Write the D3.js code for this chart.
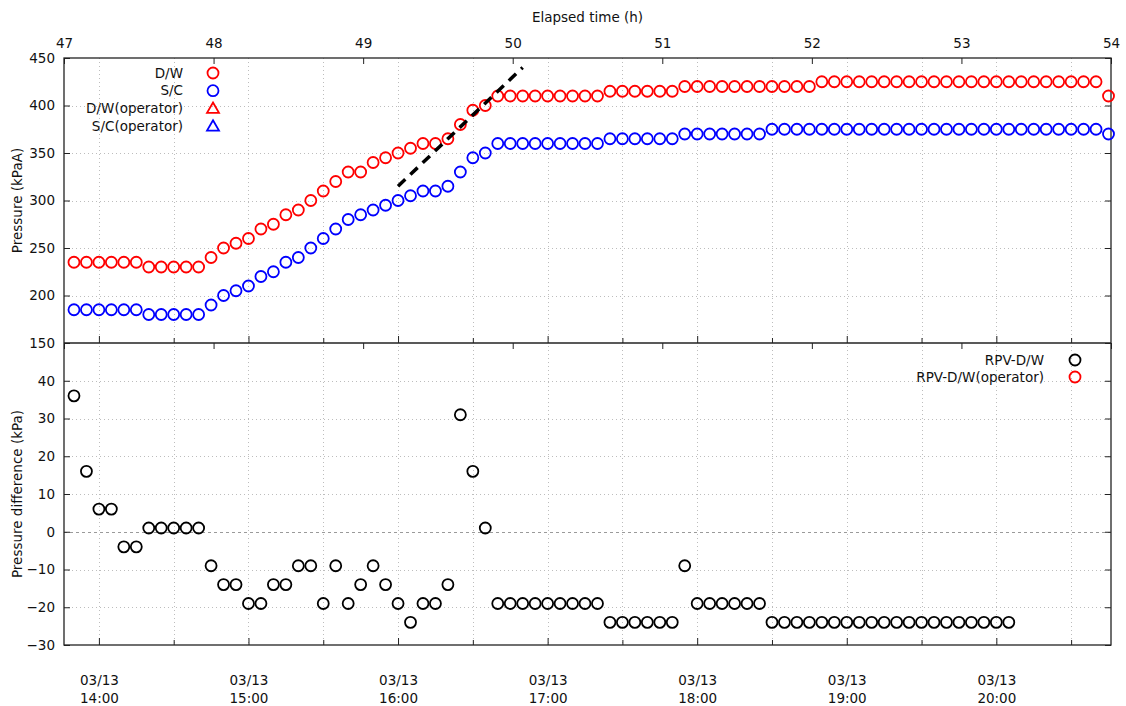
<!DOCTYPE html>
<html><head><meta charset="utf-8">
<script src="https://cdn.jsdelivr.net/npm/d3@7"></script>
<style>
body{margin:0;background:#fff}
svg{display:block}
text{font-family:"DejaVu Sans",sans-serif;font-size:13.5px;fill:#111}
</style>
</head><body>
<svg id="chart" width="1126" height="706"></svg>
<script>
// ---------- data ----------
const dateStr = "2011-03-13";
const originStr = "2011-03-11 14:46"; // elapsed time origin
const times = [
 "13:50","13:55",
 "14:00","14:05","14:10","14:15","14:20","14:25","14:30","14:35","14:40","14:45","14:50","14:55",
 "15:00","15:05","15:10","15:15","15:20","15:25","15:30","15:35","15:40","15:45","15:50","15:55",
 "16:00","16:05","16:10","16:15","16:20","16:25","16:30","16:35","16:40","16:45","16:50","16:55",
 "17:00","17:05","17:10","17:15","17:20","17:25","17:30","17:35","17:40","17:45","17:50","17:55",
 "18:00","18:05","18:10","18:15","18:20","18:25","18:30","18:35","18:40","18:45","18:50","18:55",
 "19:00","19:05","19:10","19:15","19:20","19:25","19:30","19:35","19:40","19:45","19:50","19:55",
 "20:00","20:05","20:10","20:15","20:20","20:25","20:30","20:35","20:40","20:45"
];
const dwValues = [
 235,235,235,235,235,235, 230,230,230,230,230,
 240,250,255,260,270,275,285,290,
 300,310,320,330,330,340,345,350,355,360,360,365,380,395,400,
 410,410,410,410,410,410,410,410,410,
 415,415,415,415,415,415,
 420,420,420,420,420,420,420,420,420,420,420,
 425,425,425,425,425,425,425,425,425,425,425,425,425,425,425,425,425,425,425,425,425,425,425,
 410
];
const scValues = [
 185,185,185,185,185,185, 180,180,180,180,180,
 190,200,205,210,220,225,235,240,
 250,260,270,280,285,290,295,300,305,310,310,315,330,345,350,
 360,360,360,360,360,360,360,360,360,
 365,365,365,365,365,365,
 370,370,370,370,370,370,370,
 375,375,375,375,375,375,375,375,375,375,375,375,375,375,375,375,375,375,375,375,375,375,375,375,375,375,375,
 370
];
const dwOperator = [];
const scOperator = [];
const rpvDwValues = [
 36,16,6,6,-4,-4, 1,1,1,1,1,
 -9,-14,-14,-19,-19,-14,-14,-9,
 -9,-19,-9,-19,-14,-9,-14,-19,-24,-19,-19,-14,31,16,1,
 -19,-19,-19,-19,-19,-19,-19,-19,-19,
 -24,-24,-24,-24,-24,-24,
 -9,
 -19,-19,-19,-19,-19,-19,
 -24,-24,-24,-24,-24,-24,-24,-24,-24,-24,-24,-24,-24,-24,-24,-24,-24,-24,-24,-24
];
const rpvDwOperator = [];
const trendTimes = ["16:00","16:50"];
const trendValues = [315,440];
const elapsedTicks = [47,48,49,50,51,52,53,54];
const pressureTicks = [150,200,250,300,350,400,450];
const diffTicks = [-30,-20,-10,0,10,20,30,40];
const topLegend = ["D/W","S/C","D/W(operator)","S/C(operator)"];
const botLegend = ["RPV-D/W","RPV-D/W(operator)"];

// ---------- layout ----------
const L = 64, R = 1111, TOP = 58, MID = 343, BOT = 645;
const svg = d3.select("#chart");
const parse = d3.timeParse("%Y-%m-%d %H:%M");
const t0 = parse(originStr);
const toDate = s => parse(dateStr + " " + s);
const HOUR = 3600e3;

const xE = d3.scaleLinear().domain([47, 54]).range([L, R]);
const xT = d3.scaleTime().domain([new Date(+t0 + 47*HOUR), new Date(+t0 + 54*HOUR)]).range([L, R]);
const yTop = d3.scaleLinear().domain([150, 450]).range([MID, TOP]);
const yBot = d3.scaleLinear().domain([-30, 50]).range([BOT, MID]);

const hourTicks = xT.ticks(d3.timeHour.every(1));
const halfTicks = xT.ticks(d3.timeMinute.every(30));
const minorTicks = halfTicks.filter(d => d.getMinutes() === 30);

// ---------- grid ----------
const grid = svg.append("g").attr("stroke", "#bdbdbd").attr("stroke-width", 1).attr("stroke-dasharray", "1,3").attr("fill", "none");
grid.selectAll("line.v").data(halfTicks).join("line")
  .attr("x1", d => Math.round(xT(d)) + 0.5).attr("x2", d => Math.round(xT(d)) + 0.5)
  .attr("y1", TOP).attr("y2", BOT);
grid.selectAll("line.ht").data(pressureTicks.filter(v => v > 150 && v < 450)).join("line")
  .attr("x1", L).attr("x2", R)
  .attr("y1", d => Math.round(yTop(d)) + 0.5).attr("y2", d => Math.round(yTop(d)) + 0.5);
svg.append("g").attr("stroke", "#bdbdbd").attr("stroke-dasharray", "1,3")
  .selectAll("line").data(diffTicks.filter(v => v > -30 && v !== 0)).join("line")
  .attr("x1", L).attr("x2", R)
  .attr("y1", d => Math.round(yBot(d)) + 0.5).attr("y2", d => Math.round(yBot(d)) + 0.5);
svg.append("line").attr("x1", L).attr("x2", R)
  .attr("y1", Math.round(yBot(0)) + 0.5).attr("y2", Math.round(yBot(0)) + 0.5)
  .attr("stroke", "#9a9a9a").attr("stroke-dasharray", "3,3");

// ---------- axes ----------
function clean(g){ g.select(".domain").remove(); g.attr("font-size", null).attr("font-family", null); g.selectAll("line").attr("stroke", "#222"); }

// top elapsed axis
svg.append("g").attr("transform", `translate(0,${TOP})`)
  .call(d3.axisTop(xE).tickValues(elapsedTicks).tickSize(-6).tickPadding(10).tickFormat(d3.format("d")))
  .call(clean);
svg.append("text").attr("x", (L + R)/2).attr("y", 22).attr("text-anchor", "middle").text("Elapsed time (h)");

// middle: time ticks up (top panel), elapsed ticks down (bottom panel)
svg.append("g").attr("transform", `translate(0,${MID})`)
  .call(d3.axisBottom(xT).tickValues(hourTicks).tickSize(-7).tickFormat(""))
  .call(clean);
svg.append("g").attr("transform", `translate(0,${MID})`)
  .call(d3.axisBottom(xT).tickValues(minorTicks).tickSize(-5).tickFormat(""))
  .call(clean);
svg.append("g").attr("transform", `translate(0,${MID})`)
  .call(d3.axisTop(xE).tickValues(elapsedTicks).tickSize(-6).tickFormat(""))
  .call(clean);

// bottom time axis
const axB = svg.append("g").attr("transform", `translate(0,${BOT})`)
  .call(d3.axisBottom(xT).tickValues(hourTicks).tickSize(-7).tickFormat(""))
  .call(clean);
axB.selectAll(".tick text").each(function(d){
  const t = d3.select(this).text(null).attr("y", null).attr("dy", null);
  t.append("tspan").attr("x", 0).attr("y", 40).text(d3.timeFormat("%m/%d")(d));
  t.append("tspan").attr("x", 0).attr("y", 58).text(d3.timeFormat("%H:%M")(d));
});
svg.append("g").attr("transform", `translate(0,${BOT})`)
  .call(d3.axisBottom(xT).tickValues(minorTicks).tickSize(-5).tickFormat(""))
  .call(clean);

// y axes
svg.append("g").attr("transform", `translate(${L},0)`)
  .call(d3.axisLeft(yTop).tickValues(pressureTicks).tickSize(-6).tickPadding(9))
  .call(clean);
svg.append("g").attr("transform", `translate(${R},0)`)
  .call(d3.axisRight(yTop).tickValues(pressureTicks).tickSize(-6).tickFormat(""))
  .call(clean);
svg.append("g").attr("transform", `translate(${L},0)`)
  .call(d3.axisLeft(yBot).tickValues(diffTicks).tickSize(-6).tickPadding(9))
  .call(clean);
svg.append("g").attr("transform", `translate(${R},0)`)
  .call(d3.axisRight(yBot).tickValues(diffTicks).tickSize(-6).tickFormat(""))
  .call(clean);

svg.append("text").attr("transform", `translate(17,${(TOP+MID)/2}) rotate(-90)`)
  .attr("text-anchor", "middle").attr("dy", "0.35em").text("Pressure (kPaA)");
svg.append("text").attr("transform", `translate(17,${(MID+BOT)/2}) rotate(-90)`)
  .attr("text-anchor", "middle").attr("dy", "0.35em").text("Pressure difference (kPa)");

// frames
svg.append("rect").attr("x", L).attr("y", TOP).attr("width", R - L).attr("height", BOT - TOP)
  .attr("fill", "none").attr("stroke", "#222").attr("stroke-width", 1.3);
svg.append("line").attr("x1", L).attr("x2", R).attr("y1", MID).attr("y2", MID)
  .attr("stroke", "#222").attr("stroke-width", 1.3);

// ---------- marks ----------
const RAD = 5.5, SW = 1.8;
function circles(vals, tArr, y, color){
  svg.append("g").selectAll("circle").data(vals).join("circle")
    .attr("cx", (d, i) => xT(toDate(tArr[i]))).attr("cy", d => y(d)).attr("r", RAD)
    .attr("fill", "none").attr("stroke", color).attr("stroke-width", SW);
}
circles(dwValues, times, yTop, "#ff0000");
circles(scValues, times, yTop, "#0000ff");
circles(rpvDwValues, times, yBot, "#000000");

// trend line
svg.append("path")
  .datum(trendTimes.map((t, i) => [xT(toDate(t)), yTop(trendValues[i])]))
  .attr("d", d3.line())
  .attr("stroke", "#000").attr("stroke-width", 3.5).attr("stroke-dasharray", "10,7").attr("fill", "none");

// ---------- legends ----------
const topColors = ["#ff0000","#0000ff","#ff0000","#0000ff"];
const topShapes = ["circle","circle","triangle","triangle"];
topLegend.forEach((name, i) => {
  const y = 73 + i*17.7;
  svg.append("text").attr("x", 183).attr("y", y).attr("dy", "0.35em").attr("text-anchor", "end").text(name);
  if (topShapes[i] === "circle")
    svg.append("circle").attr("cx", 213).attr("cy", y).attr("r", RAD).attr("fill", "none").attr("stroke", topColors[i]).attr("stroke-width", SW);
  else
    svg.append("path").attr("d", d3.symbol(d3.symbolTriangle, 62)()).attr("transform", `translate(213,${y+1})`)
      .attr("fill", "none").attr("stroke", topColors[i]).attr("stroke-width", SW);
});
const botColors = ["#000000","#ff0000"];
botLegend.forEach((name, i) => {
  const y = 360 + i*17;
  svg.append("text").attr("x", 1044).attr("y", y).attr("dy", "0.35em").attr("text-anchor", "end").text(name);
  svg.append("circle").attr("cx", 1075).attr("cy", y).attr("r", RAD).attr("fill", "none").attr("stroke", botColors[i]).attr("stroke-width", SW);
});
</script>
</body></html>
